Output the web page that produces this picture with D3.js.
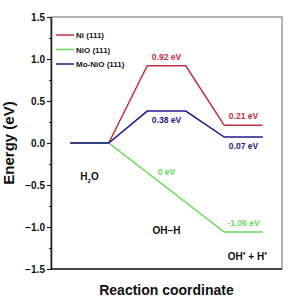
<!DOCTYPE html>
<meta charset="utf-8">
<script src="https://d3js.org/d3.v7.min.js"></script>
<style>
  body { margin: 0; background: #fff; }
  text { font-family: "Liberation Sans Narrow", "Liberation Sans", Arial, sans-serif; font-weight: bold; }
</style>
<div id="my_dataviz"></div>
<script>

    // reaction steps (each state is a flat segment: start, end)
    var steps = [0, 1, 2, 3, 4, 5];
    var niValues   = [0, 0, 0.92, 0.92, 0.21, 0.21];
    var nioValues  = [0, 0, null, null, -1.06, -1.06];
    var monioValues = [0, 0, 0.38, 0.38, 0.07, 0.07];
    var seriesNames = ["Ni (111)", "NiO (111)", "Mo-NiO (111)"];
    var yTicks = [-1.5, -1.0, -0.5, 0.0, 0.5, 1.0, 1.5];
    var yMinor = [-1.25, -0.75, -0.25, 0.25, 0.75, 1.25];

    var colors = ["#c0303a", "#66dd55", "#1c1c8c"];

    var margin = {top: 17, right: 18, bottom: 31, left: 51},
        width = 300 - margin.left - margin.right,
        height = 300 - margin.top - margin.bottom;

    var svg = d3.select("#my_dataviz")
        .append("svg")
            .attr("width", 300)
            .attr("height", 300)
        .append("g")
            .attr("transform", "translate(" + margin.left + "," + margin.top + ")");

    var x = d3.scaleLinear().domain([-0.5, 5.5]).range([0, width]);
    var y = d3.scaleLinear().domain([-1.5, 1.5]).range([height, 0]);

    // frame
    svg.append("rect")
        .attr("x", 0).attr("y", 0)
        .attr("width", width).attr("height", height)
        .attr("fill", "none").attr("stroke", "#666").attr("stroke-width", 1);

    // Y axis
    var yAxis = svg.append("g")
        .call(d3.axisLeft(y).tickValues(yTicks).tickFormat(d3.format(".1f")).tickSize(4).tickSizeOuter(0));
    yAxis.select(".domain").attr("stroke", "#222").attr("stroke-width", 1.6);
    yAxis.selectAll(".tick line").attr("stroke", "#222").attr("stroke-width", 1.2);
    yAxis.selectAll("text").style("font-size", "10px").attr("fill", "#111").attr("x", -6);
    svg.append("g")
        .call(d3.axisLeft(y).tickValues(yMinor).tickFormat("").tickSize(2))
        .call(function(g) { g.select(".domain").remove(); })
        .selectAll("line").attr("stroke", "#222").attr("stroke-width", 1.2);

    // bottom axis line
    svg.append("line")
        .attr("x1", 0).attr("x2", width).attr("y1", height).attr("y2", height)
        .attr("stroke", "#222").attr("stroke-width", 1.6);

    // series lines
    var allValues = [niValues, nioValues, monioValues];
    var line = d3.line()
        .x(function(d) { return x(d[0]); })
        .y(function(d) { return y(d[1]); });

    allValues.forEach(function(vals, i) {
        var pts = steps.map(function(s, j) { return [s, vals[j]]; })
                       .filter(function(p) { return p[1] !== null; });
        svg.append("path")
            .datum(pts)
            .attr("d", line)
            .attr("fill", "none")
            .attr("stroke", colors[i])
            .attr("stroke-width", 1.5);
    });

    // energy labels
    var labels = [
        {t: "0.92 eV", s: 2.5, v: 0.92, dy: -6, c: 0},
        {t: "0.38 eV", s: 2.5, v: 0.38, dy: 12, c: 2},
        {t: "0.21 eV", s: 4.5, v: 0.21, dy: -6, c: 0},
        {t: "0.07 eV", s: 4.5, v: 0.07, dy: 12, c: 2},
        {t: "0 eV", s: 2.5, v: -0.38, dy: 0, c: 1},
        {t: "-1.06 eV", s: 4.5, v: -1.06, dy: -6, c: 1}
    ];
    svg.selectAll(".elabel")
        .data(labels)
        .enter()
        .append("text")
        .attr("x", function(d) { return x(d.s); })
        .attr("y", function(d) { return y(d.v) + d.dy; })
        .attr("text-anchor", "middle")
        .style("font-size", "8.5px")
        .attr("fill", function(d) { return colors[d.c]; })
        .text(function(d) { return d.t; });

    // state labels
    var h2o = svg.append("text")
        .attr("x", x(0.5)).attr("y", y(-0.44))
        .attr("text-anchor", "middle")
        .style("font-size", "10px").attr("fill", "#111");
    h2o.append("tspan").text("H");
    h2o.append("tspan").text("2").attr("dy", 3).style("font-size", "6px");
    h2o.append("tspan").text("O").attr("dy", -3);

    svg.append("text")
        .attr("x", x(2.5)).attr("y", y(-1.08))
        .attr("text-anchor", "middle")
        .style("font-size", "10px").attr("fill", "#111")
        .text("OH\u2013H");

    var fs = svg.append("text")
        .attr("x", x(4.6)).attr("y", y(-1.39))
        .attr("text-anchor", "middle")
        .style("font-size", "10px").attr("fill", "#111");
    fs.append("tspan").text("OH");
    fs.append("tspan").text("*").attr("dy", -3).style("font-size", "7px");
    fs.append("tspan").text(" + H").attr("dy", 3);
    fs.append("tspan").text("*").attr("dy", -3).style("font-size", "7px");

    // legend
    var legend = svg.selectAll(".legend")
        .data(seriesNames)
        .enter()
        .append("g")
        .attr("transform", function(d, i) { return "translate(5," + (18 + i * 14.5) + ")"; });
    legend.append("line")
        .attr("x1", 0).attr("x2", 18)
        .attr("stroke", function(d, i) { return colors[i]; })
        .attr("stroke-width", 1.5);
    legend.append("text")
        .attr("x", 20).attr("y", 3)
        .style("font-size", "8px").attr("fill", "#111")
        .text(function(d) { return d; });

    // axis titles
    svg.append("text")
        .attr("transform", "rotate(-90)")
        .attr("x", -(y(0))).attr("y", -37)
        .attr("text-anchor", "middle")
        .style("font-size", "15px").attr("fill", "#111")
        .style("font-family", "'Liberation Sans', Arial, sans-serif")
        .text("Energy (eV)");

    svg.append("text")
        .attr("x", width / 2).attr("y", height + 26)
        .attr("text-anchor", "middle")
        .style("font-size", "14px").attr("fill", "#111")
        .text("Reaction coordinate");

</script>
